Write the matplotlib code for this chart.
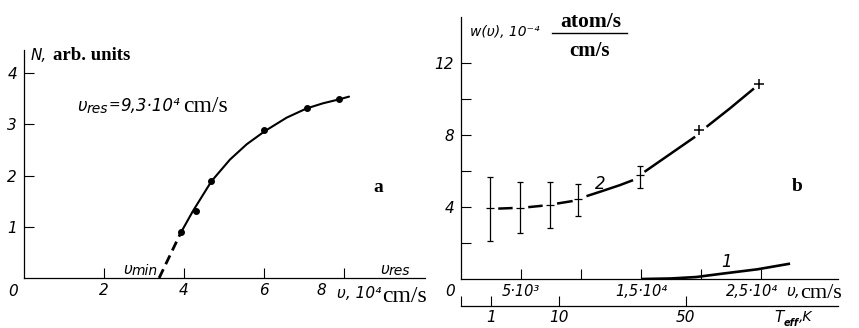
import matplotlib
matplotlib.use("Agg")
import matplotlib.pyplot as plt
import matplotlib.transforms as mtransforms
from matplotlib import font_manager
from matplotlib.lines import Line2D

# ======================================================
# FONTS
# ======================================================

names = {f.name for f in font_manager.fontManager.ttflist}
SANS = "Liberation Sans Narrow" if "Liberation Sans Narrow" in names else "DejaVu Sans"
ITAL = dict(family=[SANS, "DejaVu Sans"], style="italic")
SERIF = dict(family=["Liberation Serif", "DejaVu Serif"])

# ======================================================
# PANEL a DATA  (v in 10^4 cm/s, N in arb. units)
# ======================================================

a_dots_v = [3.93, 4.30, 4.68, 6.00, 7.08, 7.88]
a_dots_n = [0.90, 1.30, 1.89, 2.88, 3.31, 3.49]

a_curve_v = [3.92, 4.22, 4.69, 5.15, 5.57, 6.03, 6.57, 7.07, 7.48, 7.90, 8.13]
a_curve_n = [0.88, 1.30, 1.89, 2.31, 2.61, 2.87, 3.13, 3.31, 3.41, 3.49, 3.54]

a_dash_v = [3.38, 3.92]
a_dash_n = [0.00, 0.88]

a_xticks = [2, 4, 6, 8]
a_yticks = [1, 2, 3, 4]

# ======================================================
# PANEL b DATA  (v in 10^3 cm/s, w in 10^-4 atom/s / cm/s)
# ======================================================

bars_v = [2.39, 4.95, 7.39, 9.78, 14.95]
bars_w = [3.92, 3.97, 4.13, 4.43, 5.77]
bars_hi = [5.64, 5.41, 5.37, 5.28, 6.29]
bars_lo = [2.09, 2.56, 2.83, 3.48, 5.03]

plus_v = [19.83, 24.80]
plus_w = [8.26, 10.82]

# curve 2 is drawn in pieces broken at every marker
curve2 = [
    ([3.1, 4.3], [3.91, 3.94]),
    ([5.6, 6.8], [3.99, 4.07]),
    ([8.0, 9.3], [4.19, 4.33]),
    ([10.45, 11.56, 13.22, 14.33], [4.60, 4.84, 5.21, 5.49]),
    ([15.28, 17.4, 19.5], [5.95, 6.93, 7.90]),
    ([20.45, 22.39, 24.4], [8.45, 9.47, 10.58]),
]

curve1_v = [15.1, 17.5, 19.6, 21.8, 24.7, 27.3]
curve1_w = [0.00, 0.03, 0.11, 0.30, 0.54, 0.84]

b_xticks = [5, 10, 15, 20, 25]
b_xlabels = ["5·10³", "", "1,5·10⁴", "", "2,5·10⁴"]
b_yticks = [2, 4, 6, 8, 10, 12]
b_ylabels = ["", "4", "", "8", "", "12"]

# effective temperature scale, tick positions in v (10^3 cm/s)
t_pos = [0, 2.53, 8.17, 18.7]
t_labels = ["", "1", "10", "50"]

# ======================================================
# FIGURE
# ======================================================

W, H = 859, 328
fig = plt.figure(figsize=(W / 100, H / 100), dpi=100)
renderer = fig.canvas.get_renderer()


def box(l, t, r, b):
    return [l / W, 1 - b / H, (r - l) / W, (b - t) / H]


def ftext(x, y, s, **kw):
    kw.setdefault("va", "center")
    kw.setdefault("ha", "left")
    return fig.text(x / W, 1 - y / H, s, **kw)


def chain(x, y, pieces):
    # write text pieces one after another, starting at pixel x
    for s, dy, gap, kw in pieces:
        t = ftext(x, y + dy, s, **kw)
        x = t.get_window_extent(renderer).x1 + gap


def style_axes(ax):
    for side in ["top", "right"]:
        ax.spines[side].set_visible(False)
    for side in ["left", "bottom"]:
        ax.spines[side].set_linewidth(0.9)
    ax.tick_params(direction="in", length=7, width=0.8, labelsize=11)
    for lab in ax.get_xticklabels() + ax.get_yticklabels():
        lab.set_family(ITAL["family"])
        lab.set_style("italic")


# ------------------------------------------------------
# panel a
# ------------------------------------------------------

ax_a = fig.add_axes(box(24, 50, 425, 278))
ax_a.set_xlim(0, 10.03)
ax_a.set_ylim(0, 4.45)
ax_a.set_xticks(a_xticks)
ax_a.set_xticklabels([str(t) for t in a_xticks])
ax_a.set_yticks(a_yticks)
ax_a.set_yticklabels([str(t) for t in a_yticks])
style_axes(ax_a)
ax_a.tick_params(axis="x", pad=3.5)
ax_a.tick_params(axis="y", pad=5)

# move the "8" label left, away from the axis title
lab8 = ax_a.get_xticklabels()[-1]
lab8.set_transform(lab8.get_transform()
                   + mtransforms.ScaledTranslation(-22 / 100, 0, fig.dpi_scale_trans))

ax_a.plot(a_dash_v, a_dash_n, color="k", lw=2.0, dashes=(3.5, 2.0))
ax_a.plot(a_curve_v, a_curve_n, color="k", lw=1.5, solid_capstyle="round")
ax_a.plot(a_dots_v, a_dots_n, "o", color="k", ms=4)

ftext(13, 291, "0", fontsize=11, ha="center", **ITAL)
chain(31, 56, [
    ("N,", 0, 6, dict(fontsize=11, **ITAL)),
    ("arb. units", 0, 0, dict(fontsize=13.5, weight="bold", **SERIF)),
])
chain(77, 106, [
    ("υ", 0, 0, dict(fontsize=12, **ITAL)),
    ("res", 3, 0, dict(fontsize=10, **ITAL)),
    ("=", 0, 1, dict(fontsize=10, **ITAL)),
    ("9,3·10⁴", 0, 3, dict(fontsize=12, **ITAL)),
    ("cm/s", 1, 0, dict(fontsize=17, **SERIF)),
])
ftext(378, 188, "a", fontsize=14, weight="bold", ha="center", **SERIF)
chain(123, 269, [
    ("υ", 0, 0, dict(fontsize=11, **ITAL)),
    ("min", 2, 0, dict(fontsize=10, **ITAL)),
])
chain(380, 269, [
    ("υ", 0, 0, dict(fontsize=11, **ITAL)),
    ("res", 2, 0, dict(fontsize=10, **ITAL)),
])
chain(337, 294, [
    ("υ, 10⁴", 0, 1, dict(fontsize=11, **ITAL)),
    ("cm/s", 2, 0, dict(fontsize=17, **SERIF)),
])

# ------------------------------------------------------
# panel b
# ------------------------------------------------------

ax_b = fig.add_axes(box(461, 17, 838, 279))
ax_b.set_xlim(0, 31.4)
ax_b.set_ylim(0, 14.55)
ax_b.set_xticks(b_xticks)
ax_b.set_xticklabels(b_xlabels)
ax_b.set_yticks(b_yticks)
ax_b.set_yticklabels(b_ylabels)
style_axes(ax_b)
ax_b.tick_params(axis="x", pad=3.5, labelsize=10.5)
ax_b.tick_params(axis="y", pad=5)

lab25 = ax_b.get_xticklabels()[-1]
lab25.set_transform(lab25.get_transform()
                    + mtransforms.ScaledTranslation(-9 / 100, 0, fig.dpi_scale_trans))

for xs, ys in curve2:
    ax_b.plot(xs, ys, color="k", lw=1.8, solid_capstyle="butt")

ax_b.plot(curve1_v, curve1_w, color="k", lw=1.9)

err_lo = [w - lo for w, lo in zip(bars_w, bars_lo)]
err_hi = [hi - w for w, hi in zip(bars_w, bars_hi)]
ax_b.errorbar(bars_v, bars_w, yerr=[err_lo, err_hi], fmt="none",
              ecolor="k", elinewidth=0.9, capsize=2.2, capthick=0.9)
ax_b.plot(bars_v, bars_w, "_", color="k", ms=6, mew=0.9)
ax_b.plot(plus_v, plus_w, "+", color="k", ms=6.5, mew=1.1)

ax_b.text(11.56, 5.3, "2", fontsize=12, ha="center", va="center", **ITAL)
ax_b.text(22.1, 0.94, "1", fontsize=12, ha="center", va="center", **ITAL)

ftext(450, 291, "0", fontsize=11, ha="center", **ITAL)
ftext(470, 32, "w(υ), 10⁻⁴", fontsize=10, **ITAL)
ftext(591, 22, "atom/s", fontsize=15.5, weight="bold", ha="center", **SERIF)
ftext(590, 51, "cm/s", fontsize=15, weight="bold", ha="center", **SERIF)
fig.add_artist(Line2D([552 / W, 627 / W], [1 - 33 / H, 1 - 33 / H],
                      color="k", lw=1.0, transform=fig.transFigure))
ftext(797, 187, "b", fontsize=14, weight="bold", ha="center", **SERIF)
chain(786, 292, [
    ("υ,", 0, 0, dict(fontsize=11, **ITAL)),
    ("cm/s", 1, 0, dict(fontsize=16, **SERIF)),
])

# effective temperature axis under panel b
ax_t = fig.add_axes(box(461, 296, 838, 306))
ax_t.set_xlim(0, 31.4)
ax_t.set_yticks([])
for side in ["top", "right", "left"]:
    ax_t.spines[side].set_visible(False)
ax_t.spines["bottom"].set_linewidth(0.9)
ax_t.set_xticks(t_pos)
ax_t.set_xticklabels(t_labels)
ax_t.patch.set_alpha(0)
ax_t.tick_params(direction="in", length=7, width=0.8, labelsize=11, pad=3)
for lab in ax_t.get_xticklabels():
    lab.set_family(ITAL["family"])
    lab.set_style("italic")

chain(774, 318, [
    ("T", 0, 0, dict(fontsize=11, **ITAL)),
    ("eff", 5, 0, dict(fontsize=7, weight="bold", **ITAL)),
    (",K", -1, 0, dict(fontsize=10, **ITAL)),
])

fig.savefig("out.png", dpi=100)
